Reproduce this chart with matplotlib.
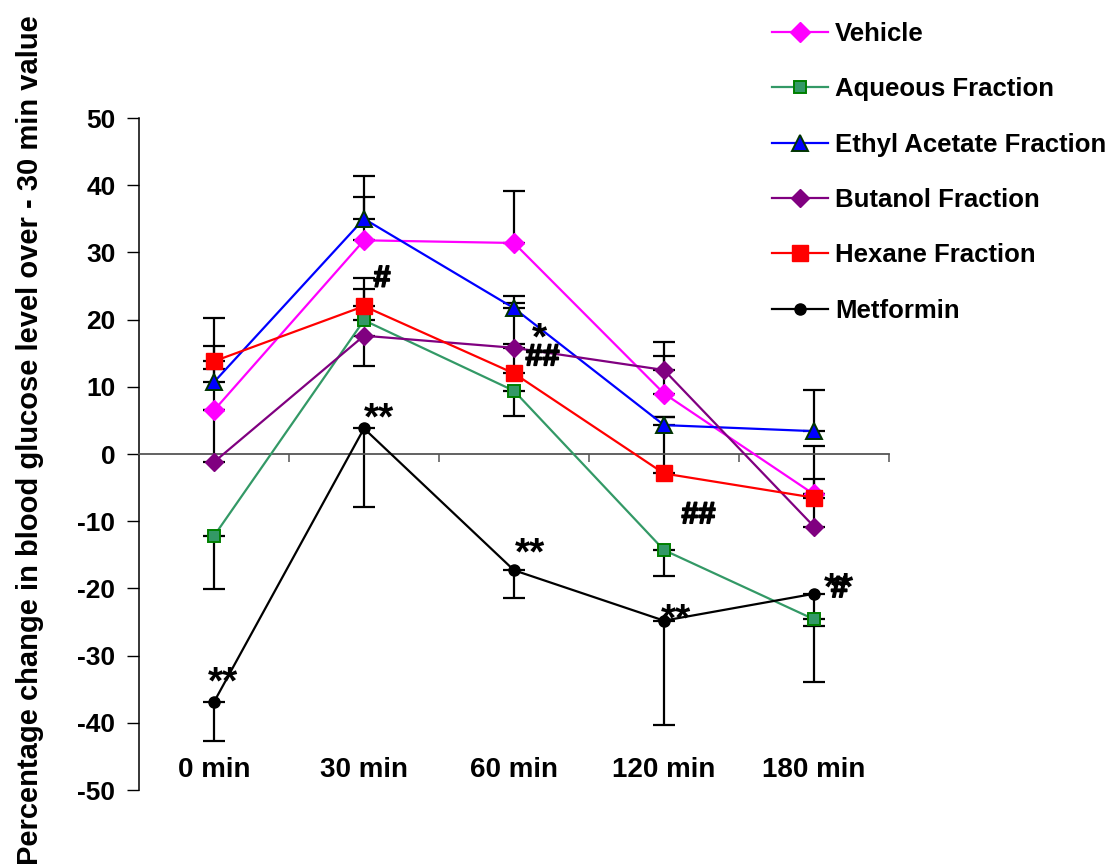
import matplotlib
matplotlib.use("Agg")
import matplotlib.pyplot as plt
import matplotlib.patheffects as pe

plt.rcParams['font.family'] = ['Liberation Sans', 'DejaVu Sans']
plt.rcParams['font.weight'] = 'bold'
plt.rcParams['axes.unicode_minus'] = False

# data (% change vs 30 min value)
times = ['0 min', '30 min', '60 min', '120 min', '180 min']

vehicle = [6.5, 31.8, 31.4, 9.0, -6.0]
vehicle_up = [6.1, 6.5, 7.8, 5.6, 0.0]
vehicle_dn = [0, 0, 0, 0, 0]

aqueous = [-12.2, 19.9, 9.4, -14.3, -24.6]
aqueous_up = [0, 4.7, 0, 0, 0]
aqueous_dn = [7.9, 0, 3.8, 3.8, 9.4]

ethyl = [10.7, 35.0, 21.7, 4.3, 3.4]
ethyl_up = [5.4, 6.4, 0.8, 1.2, 6.1]
ethyl_dn = [0, 0, 0, 0, 0]

butanol = [-1.2, 17.6, 15.8, 12.5, -10.8]
butanol_up = [7.7, 0, 7.7, 4.2, 12.0]
butanol_dn = [0, 4.5, 0, 0, 0]

hexane = [13.8, 22.0, 12.0, -2.9, -6.5]
hexane_up = [6.5, 4.2, 4.4, 8.4, 2.8]
hexane_dn = [0, 0, 0, 0, 0]

metformin = [-36.9, 3.8, -17.3, -24.8, -20.8]
metformin_up = [0, 0, 0, 0, 0]
metformin_dn = [5.8, 11.7, 4.1, 15.5, 4.8]

# significance marks: (text, category position, value)
marks = [
    ("**", 0.06, -35.7),
    ("#", 1.12, 24.9),
    ("**", 1.10, 3.6),
    ("*", 2.17, 15.5),
    ("##", 2.19, 13.2),
    ("**", 2.11, -16.5),
    ("##", 3.23, -10.3),
    ("**", 3.08, -26.2),
    ("**", 4.17, -21.7),
    ("#", 4.17, -21.3),
]

series = [
    ("Vehicle", vehicle, vehicle_up, vehicle_dn,
     dict(color='#FF00FF', marker='D', ms=10, mfc='#FF00FF', mec='#FF00FF')),
    ("Aqueous Fraction", aqueous, aqueous_up, aqueous_dn,
     dict(color='#339966', marker='s', ms=8, mfc='#339966', mec='#008000', mew=1.4)),
    ("Ethyl Acetate Fraction", ethyl, ethyl_up, ethyl_dn,
     dict(color='#0000FF', marker='^', ms=11, mfc='#0000FF', mec='#003300', mew=1.4)),
    ("Butanol Fraction", butanol, butanol_up, butanol_dn,
     dict(color='#800080', marker='D', ms=9, mfc='#800080', mec='#800080')),
    ("Hexane Fraction", hexane, hexane_up, hexane_dn,
     dict(color='#FF0000', marker='s', ms=11.5, mfc='#FF0000', mec='#FF0000')),
    ("Metformin", metformin, metformin_up, metformin_dn,
     dict(color='black', marker='o', ms=8, mfc='black', mec='black')),
]

W, H = 1115, 867
fig = plt.figure(figsize=(W / 100, H / 100), dpi=100)
ax = fig.add_axes([139 / W, 1 - 790 / H, 750 / W, 672 / H])

x = list(range(len(times)))
handles = []
for name, vals, up, dn, st in series:
    ax.errorbar(x, vals, yerr=[dn, up], fmt='none', ecolor='black',
                elinewidth=1.6, capsize=8, capthick=1.6, zorder=2)
    h, = ax.plot(x, vals, lw=1.6, label=name, zorder=3, **st)
    handles.append(h)

for txt, xp, yp in marks:
    if '*' in txt:
        ax.text(xp, yp, txt, ha='center', va='baseline', fontsize=28,
                fontweight='bold', zorder=5)
    else:
        ax.text(xp, yp, txt, ha='center', va='baseline', fontsize=22,
                fontweight='bold', zorder=5,
                path_effects=[pe.withStroke(linewidth=1.2, foreground='black')])

ax.set_xlim(-0.5, 4.5)
ax.set_ylim(-50, 50)
ax.set_yticks(range(-50, 51, 10))
ax.tick_params(axis='y', direction='out', length=9, width=1, pad=8,
               labelsize=19)
for lab in ax.get_yticklabels():
    lab.set_fontweight('bold')

ax.spines['top'].set_visible(False)
ax.spines['right'].set_visible(False)
ax.spines['bottom'].set_position(('data', 0))
ax.spines['bottom'].set_color('#555555')
ax.spines['bottom'].set_linewidth(1.3)
ax.spines['left'].set_linewidth(1.1)
ax.set_xticks([0.5, 1.5, 2.5, 3.5, 4.5])
ax.set_xticklabels([])
ax.tick_params(axis='x', direction='out', length=6, width=1.1, color='#555555')

for i, t in enumerate(times):
    ax.text(i, -48.1, t, ha='center', va='baseline', fontsize=20,
            fontweight='bold')

fig.text(30 / W, 1 - 440 / H,
         'Percentage change in blood glucose level over - 30 min value',
         rotation=90, ha='center', va='center', fontsize=21, fontweight='bold')

fig.legend(handles=handles, loc='upper left', bbox_to_anchor=(772 / W, 1 - 22 / H),
           frameon=False, borderpad=0, borderaxespad=0,
           labelspacing=1.22, handlelength=2.18, handletextpad=0.27,
           prop={'weight': 'bold', 'size': 18.5})

fig.savefig('out.png', dpi=100)
